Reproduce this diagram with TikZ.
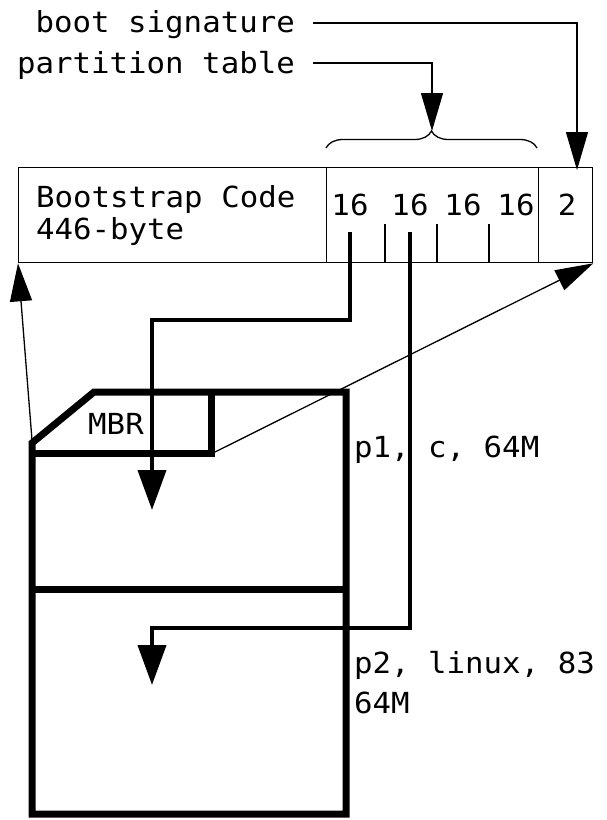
\documentclass[tikz,border=0pt]{standalone}
\usepackage{fontspec}
\setmonofont[FakeStretch=1.06]{DejaVu Sans Mono}
\usetikzlibrary{arrows.meta,decorations.pathreplacing}
\begin{document}
\begin{tikzpicture}[x=1pt,y=-1pt,
  lbl/.style={font=\ttfamily\fontsize{29}{34}\selectfont, inner sep=0pt},
  thinline/.style={line width=1.3pt},
  thinarrow/.style={line width=1.3pt, -{Triangle[width=22pt,length=38pt]}},
  thickarrow/.style={line width=4pt, -{Triangle[width=28pt,length=40pt]}},
  disk/.style={line width=7pt, line join=miter},
  cell/.style={draw, line width=1.3pt, inner sep=0pt, anchor=north west, minimum height=95pt}
]
\useasboundingbox (0,0) rectangle (607,820);

% labels at top
\node[lbl, anchor=base east] (bsig) at (295,32) {boot signature};
\node[lbl, anchor=base east] (ptlbl) at (295,73) {partition table};

% boot record strip
\node[cell, minimum width=308pt] (bootcode) at (18,167) {};
\node[cell, minimum width=212pt] (ptable) at (326,167) {};
\node[cell, minimum width=54pt] (sigcell) at (538,167) {};
\draw[thinline] (385,224) -- (385,262);
\draw[thinline] (437,224) -- (437,262);
\draw[thinline] (489,224) -- (489,262);

\node[lbl, anchor=base west] (bctext) at (36,207) {Bootstrap Code};
\node[lbl, anchor=base west] (bcsize) at (36,239) {446-byte};
\node[lbl, anchor=base] (e1) at (350,215) {16};
\node[lbl, anchor=base] (e2) at (410,215) {16};
\node[lbl, anchor=base] (e3) at (463,215) {16};
\node[lbl, anchor=base] (e4) at (516,215) {16};
\node[lbl, anchor=base] (e5) at (567,215) {2};

% brace
\draw[thinline, decorate, decoration={brace, amplitude=17pt}] (326,148) -- (537,148);
\coordinate (bracetip) at (432,131);
\coordinate (sigtip) at (577,170);

\draw[thinarrow] ([xshift=18pt,yshift=9pt]bsig.base east) -| (sigtip);
\draw[thinarrow] ([xshift=18pt,yshift=10pt]ptlbl.base east) -| (bracetip);

% disk
\draw[disk] (32,443) -- (94,392) -- (346,392) -- (346,814) -- (32,814) -- cycle;
\draw[disk] (32,589) -- (346,589);
\draw[disk] (32,453) -- (211,453) -- (211,392);
\node[lbl, anchor=base] (mbr) at (116,434) {MBR};
\node[lbl, anchor=base west] (p1) at (354,457) {p1, c, 64M};
\node[lbl, anchor=base west] (p2) at (354,673) {p2, linux, 83};
\node[lbl, anchor=base west] (p2size) at (354,713) {64M};

% partition pointers
\coordinate (e1foot) at (350,232);
\coordinate (e2foot) at (410,232);
\coordinate (p1start) at (152,510);
\coordinate (p2start) at (152,685);
\draw[thickarrow] (e1foot) |- (152,320) -- (p1start);
\draw[thickarrow] (e2foot) |- (152,628) -- (p2start);

% MBR mapping lines
\coordinate (diskcorner) at (32,440);
\coordinate (mbrcorner) at (213,453);
\draw[thinarrow] (diskcorner) -- (bootcode.south west);
\draw[thinarrow] (mbrcorner) -- (sigcell.south east);
\end{tikzpicture}
\end{document}
